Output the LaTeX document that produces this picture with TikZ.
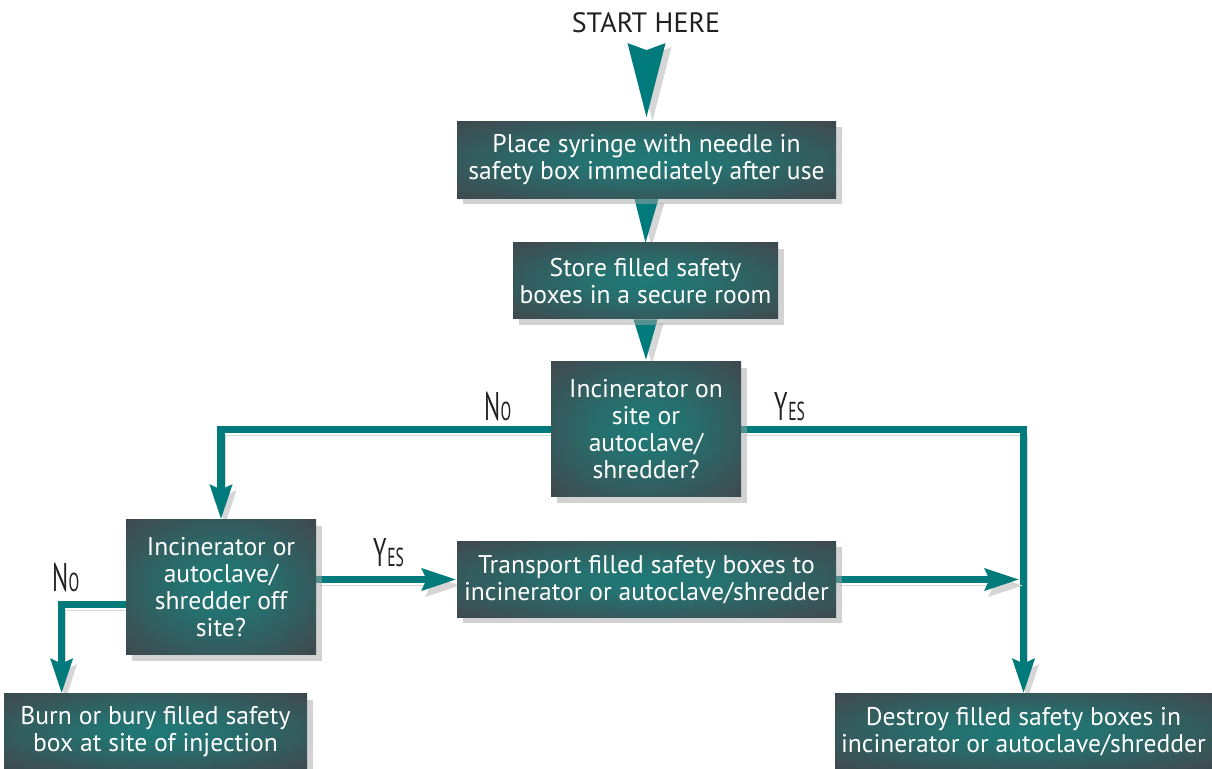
\documentclass[tikz,border=0pt]{standalone}
\usepackage{fontspec}
\setmainfont{PT Sans}
\usetikzlibrary{arrows.meta,calc,shadows,backgrounds}
\definecolor{ink}     {HTML}{231F20}
\definecolor{flowc}   {HTML}{007A7A}
\definecolor{glow}    {HTML}{1F7A77}
\definecolor{slate}   {HTML}{3D4E52}
\definecolor{slatedk} {HTML}{2C3235}
\pgfdeclareradialshading{boxglow}{\pgfpoint{0bp}{0bp}}{%
  color(0bp)=(glow); color(10bp)=(glow!80!slate); color(32bp)=(slate); color(50bp)=(slatedk)}
\newcommand{\yn}[2]{\scalebox{0.6}[1]{#1\fontsize{13pt}{14pt}\selectfont #2}}
\tikzset{
  % --- nodes
  box/.style   = {shading=boxglow, text=white, align=center, inner sep=0pt,
                  font=\fontsize{12.8pt}{13.5pt}\selectfont,
                  drop shadow={shadow xshift=3pt, shadow yshift=-3pt, fill=black!35, opacity=.5}},
  lbl/.style   = {text=ink, inner sep=0pt, font=\fontsize{20pt}{22pt}\selectfont},
  top/.style   = {text=ink, inner sep=0pt, font=\fontsize{14pt}{16pt}\selectfont},
  % --- edges
  flow/.style  = {draw=flowc, line width=3.8pt, -{Stealth[length=17pt,width=10.5pt,inset=2pt]},
                  preaction={draw=black!16, transform canvas={xshift=2pt,yshift=-3pt}}},
  wedge/.style = {fill=flowc, preaction={fill=black!16, transform canvas={xshift=3pt,yshift=-2pt}}},
}
\begin{document}
\begin{tikzpicture}[x=0.5pt, y=-0.5pt]
  \useasboundingbox (0,0) rectangle (1212,769);

  \node[top] (start) at (646,23) {START HERE};
  \node[box, minimum width=189.5pt, minimum height=38.5pt] (b1) at (646.5,160)
    {Place syringe with needle in\\safety box immediately after use};
  \node[box, minimum width=132.5pt, minimum height=38pt] (b2) at (645.5,281)
    {Store filled safety\\boxes in a secure room};
  \node[box, minimum width=95pt, minimum height=67.5pt] (b3) at (646,429.5)
    {Incinerator on\\site or\\autoclave/\\shredder?};
  \node[box, minimum width=95pt, minimum height=67.5pt] (b4) at (221,587.5)
    {Incinerator or\\autoclave/\\shredder off\\site?};
  \node[box, minimum width=151.5pt, minimum height=37.5pt] (b5) at (155.5,731.5)
    {Burn or bury filled safety\\box at site of injection};
  \node[box, minimum width=189.5pt, minimum height=38pt] (b6) at (646.5,579.5)
    {Transport filled safety boxes to\\incinerator or autoclave/shredder};
  \node[box, minimum width=188.5pt, minimum height=37.5pt] (b7) at (1023.5,731.5)
    {Destroy filled safety boxes in\\incinerator or autoclave/shredder};

  \node[lbl] (no1)  at (498,407) {\yn{N}{O}};
  \node[lbl] (yes1) at (790,407) {\yn{Y}{ES}};
  \node[lbl] (yes2) at (389,553) {\yn{Y}{ES}};
  \node[lbl] (no2)  at (66,578)  {\yn{N}{O}};

  \begin{scope}[on background layer]
    \fill[wedge] ($(b1.north)+(-19,-78)$) -- ($(b1.north)+(0,-71)$) -- ($(b1.north)+(19,-78)$)
      -- ($(b1.north)+(0,-4)$) -- cycle;
    \fill[wedge] ($(b1.south)+(-12,0)$) -- ($(b1.south)+(12,0)$) -- (b2.north) -- cycle;
    \fill[wedge] ($(b2.south)+(-12,0)$) -- ($(b2.south)+(12,0)$) -- ($(b3.north)+(0,-2)$) -- cycle;

    \draw[flow] (b3.west) -| (b4.north);
    \draw[flow] (b3.east) -| (b7.north);
    \draw[flow] ($(b4.west)+(0,17)$) -| ($(b5.north west)+(58,0)$);
    \draw[flow] (b4.east |- b6.west) -- (b6.west);
    \draw[flow] (b6.east) -- ($(b6.east -| b7.north)+(-4,0)$);
  \end{scope}
\end{tikzpicture}
\end{document}
